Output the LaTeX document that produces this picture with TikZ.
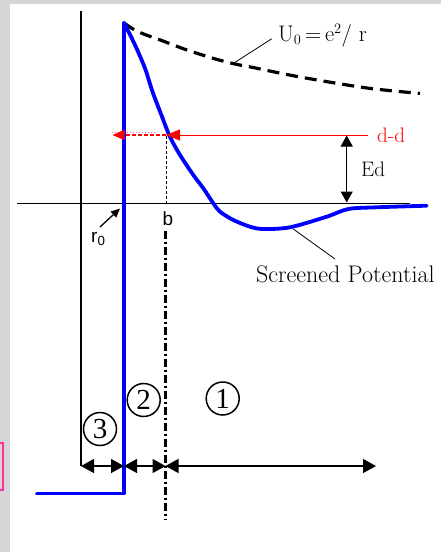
\documentclass[tikz,border=0pt]{standalone}
\usepackage{fontspec}
\newfontfamily\arial{Liberation Sans}
\newfontfamily\timesf{Liberation Serif}
\usetikzlibrary{arrows.meta}
\definecolor{pinkbox}{RGB}{255,51,153}
\definecolor{panelgray}{RGB}{214,214,214}
\begin{document}
\begin{tikzpicture}[x=1pt,y=-1pt,
  axis/.style={line width=1.3pt,black},
  pot/.style={line width=3.8pt,blue,line join=round,line cap=round},
  coul/.style={line width=3.2pt,black,dash pattern=on 12pt off 7pt},
  lbl/.style={inner sep=0pt,font=\fontsize{21}{24}\selectfont},
  sanslbl/.style={inner sep=0pt,font=\arial\fontsize{19}{22}\selectfont},
  num/.style={circle,draw,line width=1.5pt,minimum size=33pt,inner sep=0pt,font=\timesf\fontsize{29}{29}\selectfont},
  dimarrow/.style={line width=1.3pt,{Triangle[length=13pt,width=14pt]}-{Triangle[length=13pt,width=14pt]}},
  leader/.style={line width=0.8pt,black}]
\useasboundingbox (0,0) rectangle (441,552);
% background
\fill[panelgray] (0,0) rectangle (441,552);
\fill[white] (10,3.5) rectangle (441,552);
\draw[line width=2pt,pinkbox] (-5,443) rectangle (3,490);
% axes
\coordinate (ytop) at (81,10.5);
\coordinate (ybot) at (81,466);
\coordinate (xl) at (17,203.3);
\coordinate (xr) at (410,203.3);
\draw[axis] (ytop) -- (ybot);
\draw[axis] (xl) -- (xr);
% coulomb dashed
\draw[coul] plot[smooth,tension=0.5] coordinates {(124,23) (138,31.7) (163,41) (185,49.3) (213,58.3) (235,64) (253,67.5) (300,77) (367,88) (420,93.4)};
% potential
\coordinate (peak) at (124,23);
\coordinate (wallbot) at (124,493.5);
\coordinate (floorl) at (37,493.5);
\draw[pot] (floorl) -- (wallbot) -- (peak);
\draw[pot] plot[smooth,tension=0.5] coordinates {(124.3,23.3) (135,45) (145,68.3) (152.5,91.7) (161,114) (166.7,129) (171,139) (180,155) (193.3,175) (203.3,188.3) (213.3,203.3) (220,211.7) (233.3,220) (250,226.7) (263.3,229) (290,227.3) (326.7,216.7) (348.3,209) (376.7,207.3) (426.7,205.7)};
% U0 label
\node[lbl,anchor=west,font=\fontsize{22.5}{24}\selectfont] (ulbl) at (278,35.5) {U$_0$\,=\,e$^2$/ r};
\coordinate (uleadA) at (271.7,38.8);
\coordinate (uleadB) at (233.3,63.4);
\draw[leader] (uleadA) -- (uleadB);
% red d-d level
\coordinate (redR) at (368,135);
\coordinate (redhit) at (166,135);
\coordinate (redleft) at (112.5,135);
\coordinate (pinkA) at (112,132.5);
\coordinate (pinkB) at (155,132.5);
\draw[red,line width=0.9pt,-{Triangle[length=14pt,width=11pt]}] (redR) -- (redhit);
\draw[magenta!60,line width=1pt,dotted] (pinkA) -- (pinkB);
\draw[red,line width=1.3pt,dash pattern=on 4pt off 2pt,-{Triangle[length=12pt,width=10pt]}] (redhit) -- (redleft);
\node[lbl,red,anchor=west] (ddlbl) at (377,135) {d-d};
% Ed
\coordinate (edtop) at (346.7,135.5);
\coordinate (edbot) at (346.7,202.5);
\draw[line width=1pt,{Triangle[length=11pt,width=12pt]}-{Triangle[length=11pt,width=12pt]}] (edtop) -- (edbot);
\node[lbl,anchor=west] (edlbl) at (361,169) {Ed};
% b
\coordinate (btop) at (166,136);
\coordinate (bax) at (166,203);
\draw[line width=0.8pt,dash pattern=on 3pt off 2pt] (btop) -- (bax);
\node[sanslbl] (blbl) at (168,219) {b};
\coordinate (dd1) at (165.5,231);
\coordinate (dd2) at (165.5,520);
\draw[line width=2.6pt,dash pattern=on 8pt off 3pt on 2pt off 3pt] (dd1) -- (dd2);
% r0
\node[sanslbl,anchor=west] (r0lbl) at (91,239) {r\textsubscript{0}};
\coordinate (r0tail) at (100,227);
\coordinate (r0tip) at (120,208.5);
\draw[line width=1.3pt,-{Triangle[length=9pt,width=8pt]}] (r0tail) -- (r0tip);
% screened potential
\node[lbl,anchor=west,font=\fontsize{24}{26}\selectfont] (splbl) at (256,274) {Screened Potential};
\coordinate (spA) at (293.3,229);
\coordinate (spB) at (335,259);
\draw[leader] (spA) -- (spB);
% regions
\node[num] (n3) at (100,429) {3};
\node[num] (n2) at (143.7,400) {2};
\node[num] (n1) at (222.7,398.5) {1};
% dimension arrows
\coordinate (d0) at (81,466);
\coordinate (d1) at (124,466);
\coordinate (d2) at (165.5,466);
\coordinate (d3) at (376,466);
\draw[dimarrow] (d0) -- (d1);
\draw[dimarrow] (d1) -- (d2);
\draw[dimarrow] (d2) -- (d3);
\end{tikzpicture}
\end{document}
